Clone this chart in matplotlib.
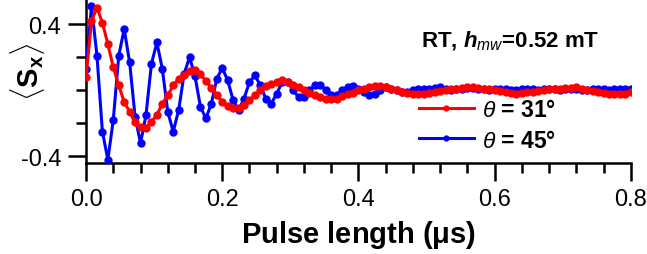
import numpy as np
import matplotlib
matplotlib.use("Agg")
import matplotlib.pyplot as plt
from matplotlib.ticker import MultipleLocator

plt.rcParams['font.family'] = ['Liberation Sans', 'DejaVu Sans']
plt.rcParams['mathtext.fontset'] = 'custom'
plt.rcParams['mathtext.rm'] = 'Liberation Sans'
plt.rcParams['mathtext.it'] = 'Liberation Sans:italic'
plt.rcParams['mathtext.bf'] = 'Liberation Sans:bold'
plt.rcParams['mathtext.bfit'] = 'Liberation Sans:bold:italic'

# pulse length grid, 8 ns step (us)
t_step = 0.008
n_pts = 101
pulse_us = np.arange(n_pts) * t_step

# <S_x>, theta = 31 deg
sx_31 = [0.08, 0.42, 0.50, 0.41, 0.28, 0.14, 0.03, -0.07, -0.13, -0.19,
         -0.225, -0.23, -0.19, -0.15, -0.08, -0.03, 0.03, 0.07, 0.095, 0.115,
         0.12, 0.10, 0.055, 0.015, -0.03, -0.07, -0.095, -0.11, -0.11, -0.09,
         -0.06, -0.03, 0.0, 0.025, 0.04, 0.05, 0.06, 0.05, 0.035, 0.02,
         0.0, -0.015, -0.03, -0.04, -0.05, -0.05, -0.05, -0.035, -0.025, -0.015,
         0.0, 0.01, 0.02, 0.025, 0.025, 0.02, 0.01, 0.0, -0.01, -0.015,
         -0.02, -0.025, -0.02, -0.015, -0.01, -0.005, 0.0, 0.005, 0.01, 0.015,
         0.02, 0.02, 0.015, 0.01, 0.005, 0.0, -0.005, -0.01, -0.015, -0.02,
         -0.015, -0.01, -0.01, -0.005, 0.0, 0.005, 0.01, 0.01, 0.015, 0.015,
         0.02, 0.01, 0.0, -0.005, -0.01, -0.015, -0.02, -0.025, -0.025, -0.02,
         -0.01]

# <S_x>, theta = 45 deg
sx_45 = [0.13, 0.51, 0.21, -0.25, -0.42, -0.18, 0.21, 0.37, 0.17, -0.16,
         -0.32, -0.15, 0.16, 0.29, 0.13, -0.13, -0.25, -0.12, 0.10, 0.20,
         0.085, -0.10, -0.17, -0.08, 0.07, 0.135, 0.06, -0.06, -0.12, -0.05,
         0.05, 0.09, 0.03, -0.05, -0.08, -0.02, 0.05, 0.05, 0.0, -0.04,
         -0.04, 0.0, 0.03, 0.03, 0.0, -0.03, -0.03, 0.0, 0.02, 0.025,
         0.01, -0.01, -0.03, -0.02, 0.0, 0.02, 0.01, 0.0, -0.01, -0.01,
         0.0, 0.01, 0.01, 0.01, 0.015, 0.02, 0.01, 0.0, 0.005, 0.01,
         0.015, 0.015, 0.01, 0.005, 0.0, 0.005, 0.01, 0.005, 0.0, 0.0,
         0.005, 0.01, 0.005, 0.0, 0.005, 0.01, 0.005, 0.0, 0.005, 0.01,
         0.005, 0.0, 0.0, 0.005, 0.01, 0.005, 0.0, 0.005, 0.01, 0.01,
         0.005]

x_ticks = [0.0, 0.2, 0.4, 0.6, 0.8]
x_labels = ['0.0', '0.2', '0.4', '0.6', '0.8']
y_ticks = [-0.4, 0.4]
y_labels = ['-0.4', '0.4']

fig = plt.figure(figsize=(6.47, 2.55), dpi=100)
ax = fig.add_axes([0.133, 0.357, 0.842, 0.643])

l45, = ax.plot(pulse_us, sx_45, color='#0000ff', lw=2.2, marker='o', ms=5, zorder=3)
l31, = ax.plot(pulse_us, sx_31, color='#ff0000', lw=2.2, marker='o', ms=5, zorder=4)

ax.set_xlim(0, 0.8)
ax.set_ylim(-0.44, 0.553)
ax.set_xticks(x_ticks)
ax.set_xticklabels(x_labels)
ax.xaxis.set_minor_locator(MultipleLocator(0.04))
ax.set_yticks(y_ticks)
ax.set_yticklabels(y_labels)
ax.yaxis.set_minor_locator(MultipleLocator(0.2))

for s in ['top', 'right']:
    ax.spines[s].set_visible(False)
for s in ['left', 'bottom']:
    ax.spines[s].set_linewidth(1.8)
ax.tick_params(which='major', direction='out', length=13, width=1.8, labelsize=17, pad=5)
ax.tick_params(which='minor', direction='out', length=7, width=1.8)

ax.set_xlabel(r'Pulse length ($\mathbf{\mu}$s)', fontsize=21, fontweight='bold', labelpad=6)
ax.set_ylabel(r'$\langle\mathbf{S}_{\mathbf{x}}\rangle$', fontsize=21)
ax.yaxis.set_label_coords(-0.072, 0.56)

ax.text(0.492, 0.30, r'RT, $\mathbfit{h}_{mw}$=0.52 mT', fontsize=16, fontweight='bold',
        va='center', ha='left')

leg = ax.legend([l31, l45], [r'$\theta$ = 31°', r'$\theta$ = 45°'],
                loc='upper left', bbox_to_anchor=(0.59, 0.465), frameon=False,
                prop={'weight': 'bold', 'size': 16.5}, handlelength=2.4,
                handletextpad=0.35, labelspacing=0.32, borderpad=0, markerscale=0.7)

fig.savefig('out.png', dpi=100)
